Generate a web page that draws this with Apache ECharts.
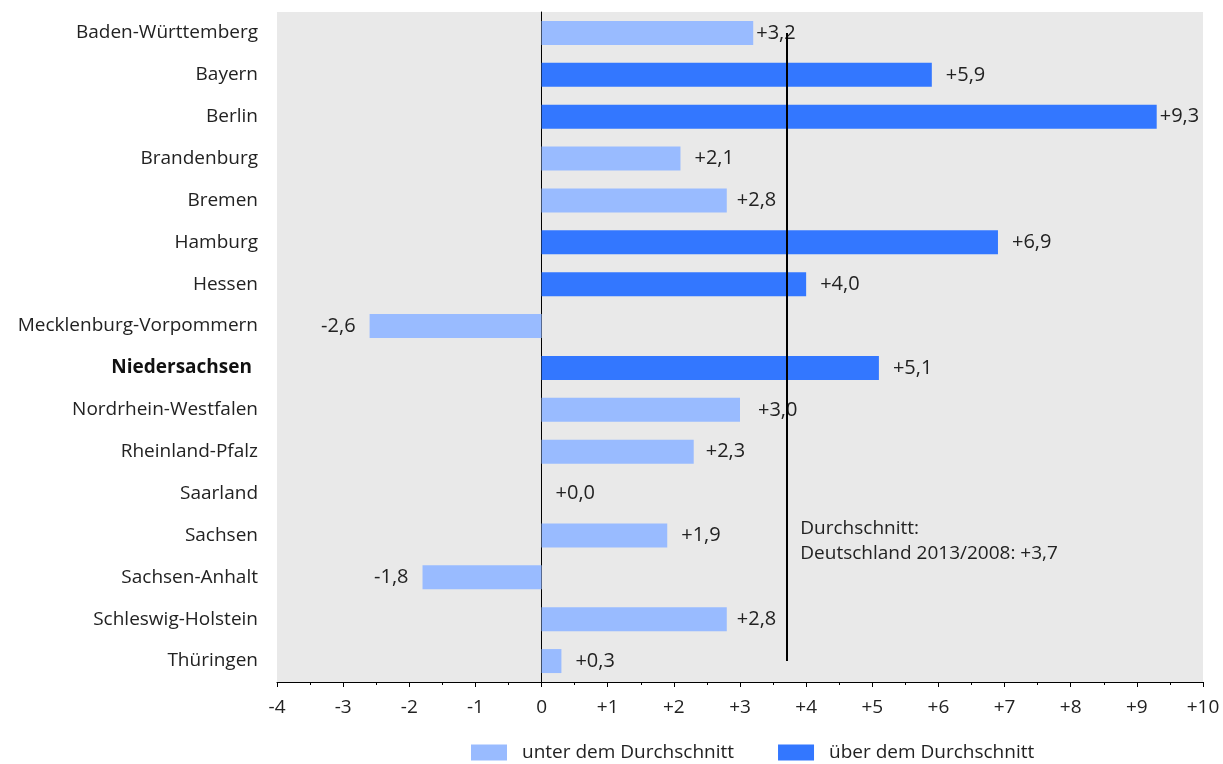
<!DOCTYPE html>
<html><head><meta charset="utf-8">
<script src="https://cdn.jsdelivr.net/npm/echarts@6/dist/echarts.min.js"></script>
<style>html,body{margin:0;padding:0;background:#fff}#c{width:1223px;height:764px}</style>
</head><body><div id="c"></div>
<script>
const categories = ['Baden-Württemberg','Bayern','Berlin','Brandenburg','Bremen','Hamburg','Hessen','Mecklenburg-Vorpommern','Niedersachsen','Nordrhein-Westfalen','Rheinland-Pfalz','Saarland','Sachsen','Sachsen-Anhalt','Schleswig-Holstein','Thüringen'];
const values = [3.2, 5.9, 9.3, 2.1, 2.8, 6.9, 4.0, -2.6, 5.1, 3.0, 2.3, 0.0, 1.9, -1.8, 2.8, 0.3];
const average = 3.7;
const seriesNames = ['unter dem Durchschnitt', 'über dem Durchschnitt'];
const labelDist = [3,14,3,14,10,14,14,14,14,18,12,14,14,14,10,14];

const FONT = '"Open Sans", "Noto Sans", sans-serif';
const FS = 19;
const VFS = 20;
const fmtVal = v => (v < 0 ? '-' + Math.abs(v).toFixed(1) : '+' + v.toFixed(1)).replace('.', ',');

function mk(isAbove) {
  return values.map((v, i) => {
    const above = v > average;
    if (above !== isAbove) return '-';
    return {
      value: v,
      label: {
        show: true,
        position: v < 0 ? 'left' : 'right',
        distance: labelDist[i],
        fontSize: VFS, color: '#222', fontFamily: FONT,
        formatter: () => fmtVal(v)
      }
    };
  });
}

const chart = echarts.init(document.getElementById('c'), null, {renderer:'canvas'});
chart.setOption({
  animation: false,
  textStyle: { fontFamily: FONT },
  grid: { left: 277, right: 20, top: 12, bottom: 82, show: true, backgroundColor: '#e9e9e9', borderWidth: 0 },
  legend: {
    top: 738, left: 466,
    itemWidth: 36, itemHeight: 16, itemGap: 44,
    textStyle: { fontSize: FS, color: '#222', fontFamily: FONT, padding: [0,0,0,10] },
    data: [{name: seriesNames[0], icon: 'rect'}, {name: seriesNames[1], icon: 'rect'}]
  },
  xAxis: {
    type: 'value', min: -4, max: 10, interval: 1,
    axisLine: { show: true, onZero: false, lineStyle: { color: '#000', width: 1 } },
    axisTick: { show: true, length: 5, lineStyle: { color: '#000' } },
    minorTick: { show: true, splitNumber: 2, length: 3, lineStyle: { color: '#000' } },
    splitLine: { show: false },
    axisLabel: { fontSize: FS, color: '#222', margin: 16, fontFamily: FONT,
      formatter: v => v > 0 ? '+' + v : String(v) }
  },
  yAxis: {
    type: 'category', data: categories, inverse: true,
    axisLine: { show: true, onZero: true, lineStyle: { color: '#000', width: 1 } },
    axisTick: { show: false },
    axisLabel: {
      fontSize: FS, color: '#222', margin: 19, fontFamily: FONT,
      formatter: v => v === 'Niedersachsen' ? '{b|' + v + '}' : v,
      rich: { b: { fontWeight: 'bold', fontSize: FS, color: '#111', fontFamily: FONT, padding: [0,6,0,0] } }
    }
  },
  series: [
    {
      name: seriesNames[0], type: 'bar', stack: 's', barWidth: 24,
      itemStyle: { color: '#99bbff' },
      label: { fontSize: VFS, color: '#222', fontFamily: FONT },
      data: mk(false),
      markLine: {
        silent: true, symbol: 'none',
        lineStyle: { color: '#000', width: 2, type: 'solid' },
        label: { show: false },
        data: [[{ coord: [average, categories[0]] }, { coord: [average, categories[categories.length-1]] }]]
      },
      markPoint: {
        silent: true, symbol: 'rect', symbolSize: 0,
        label: {
          show: true, position: 'right', distance: 14, offset: [0, 6],
          align: 'left', fontSize: FS, color: '#222', lineHeight: 25, fontFamily: FONT,
          formatter: 'Durchschnitt:\nDeutschland 2013/2008: ' + fmtVal(average)
        },
        data: [{ coord: [average, 'Sachsen'] }]
      }
    },
    {
      name: seriesNames[1], type: 'bar', stack: 's', barWidth: 24,
      itemStyle: { color: '#3377ff' },
      label: { fontSize: VFS, color: '#222', fontFamily: FONT },
      data: mk(true)
    }
  ]
});
</script></body></html>
